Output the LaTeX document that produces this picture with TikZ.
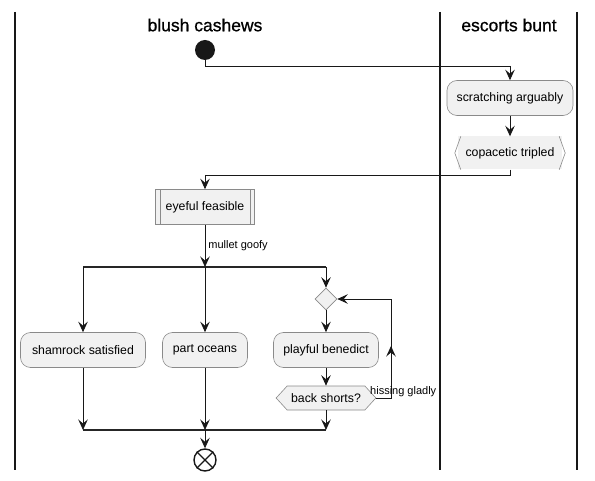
\documentclass[tikz,border=0pt]{standalone}
\usepackage{fontspec}
\setmainfont{Liberation Sans}
\newfontfamily\lanetitlefont[FakeBold=0.8]{Liberation Sans}
\usetikzlibrary{arrows.meta,shapes.symbols,shapes.geometric}
\definecolor{lc}{HTML}{181818}
\definecolor{bfill}{HTML}{F1F1F1}
\definecolor{bord}{HTML}{8A8A8A}
\tikzset{
  arr/.style={draw=lc, line width=0.9pt, -{Stealth[length=10.5pt,width=9.5pt,inset=4pt]}},
  ln/.style={draw=lc, line width=0.9pt},
  actbox/.style={draw=bord, fill=bfill, line width=0.6pt, rounded corners=10pt, minimum height=35pt, inner xsep=6pt, font=\fontsize{12.3}{14}\selectfont},
  lane/.style={draw=lc, line width=1.4pt},
  bar/.style={draw=black!85, line width=2.2pt},
  title/.style={font=\lanetitlefont\fontsize{17.5}{20}\selectfont},
  lbl/.style={font=\fontsize{11}{13}\selectfont, inner sep=1pt}
}
\begin{document}
\begin{tikzpicture}[x=1pt,y=-1pt]
\useasboundingbox (0,0) rectangle (595,481);
% lanes
\draw[lane] (15,12) -- (15,470);
\draw[lane] (440,12) -- (440,470);
\draw[lane] (577,12) -- (577,470);
\node[title] (t1) at (205,25) {blush cashews};
\node[title] (t2) at (509,25) {escorts bunt};
% start
\node[circle, fill=lc, minimum size=20pt, inner sep=0pt] (start) at (205,50) {};
\node[actbox, minimum width=126pt] (sa) at (510,98) {scratching arguably};
\coordinate (c1) at (510,66);
\draw[ln] (start.south) |- (c1);
\draw[arr] (c1) -- (sa.north);
% copacetic tripled
\node[fill=bfill, minimum width=104pt, minimum height=33pt, font=\fontsize{12.3}{14}\selectfont] (ct) at (510,153) {copacetic tripled};
\draw[draw=bord, line width=0.6pt] ([xshift=3pt]ct.north west) -- ([xshift=-3pt]ct.west) -- ([xshift=3pt]ct.south west);
\draw[draw=bord, line width=0.6pt] ([xshift=-3pt]ct.north east) -- ([xshift=3pt]ct.east) -- ([xshift=-3pt]ct.south east);
\draw[arr] (sa.south) -- (ct.north);
% eyeful feasible
\node[draw=bord, fill=bfill, line width=0.6pt, minimum width=99pt, minimum height=35pt, font=\fontsize{12.3}{14}\selectfont] (ef) at (205,207) {eyeful feasible};
\draw[draw=bord, line width=0.6pt] ([xshift=5pt]ef.north west) -- ([xshift=5pt]ef.south west);
\draw[draw=bord, line width=0.6pt] ([xshift=-5pt]ef.north east) -- ([xshift=-5pt]ef.south east);
\coordinate (c2) at (510,175);
\coordinate (c3) at (205,175);
\draw[ln] (ct.south) -- (c2) -- (c3);
\draw[arr] (c3) -- (ef.north);
% fork
\coordinate (fl) at (83,267);
\coordinate (fm) at (205,267);
\coordinate (fr) at (326,267);
\draw[bar] (fl) -- (fr);
\draw[arr] (ef.south) -- node[lbl, anchor=west, xshift=2pt] {mullet goofy} (fm);
% branches
\node[actbox, minimum width=125pt] (ss) at (83,350) {shamrock satisfied};
\node[actbox, minimum width=85pt] (po) at (205,350) {part oceans};
\node[diamond, draw=bord, fill=bfill, line width=0.6pt, minimum width=22pt, minimum height=22pt, inner sep=0pt] (dia) at (326,299) {};
\node[actbox, minimum width=105pt] (pb) at (326,350) {playful benedict};
\node[signal, signal to=west and east, signal pointer angle=95, draw=bord, fill=bfill, line width=0.6pt, minimum height=24pt, inner xsep=4pt, inner ysep=2pt, font=\fontsize{12.3}{14}\selectfont] (bs) at (326,398) {back shorts?};
\draw[arr] (fl) -- (ss.north);
\draw[arr] (fm) -- (po.north);
\draw[arr] (fr) -- (dia.north);
\draw[arr] (dia.south) -- (pb.north);
\draw[arr] (pb.south) -- (bs.north);
% loop back
\coordinate (l1) at (391,398);
\coordinate (l2) at (391,299);
\coordinate (lm) at (391,346);
\draw[ln] (bs.east) -- (l1) -- (l2);
\draw[arr] (l2) -- (dia.east);
\draw[arr] (l1) -- (lm);
\node[lbl, anchor=west] (hg) at (369,392) {hissing gladly};
% join
\coordinate (jl) at (83,430);
\coordinate (jm) at (205,430);
\coordinate (jr) at (326,430);
\draw[bar] (jl) -- (jr);
\draw[arr] (ss.south) -- (jl);
\draw[arr] (po.south) -- (jm);
\draw[arr] (bs.south) -- (jr);
% end
\node[circle, draw=lc, fill=white, line width=1.4pt, minimum size=22pt, inner sep=0pt] (end) at (205,460) {};
\draw[lc, line width=1.4pt] (end.north west) -- (end.south east) (end.north east) -- (end.south west);
\draw[arr] (jm) -- (end.north);
\end{tikzpicture}
\end{document}
